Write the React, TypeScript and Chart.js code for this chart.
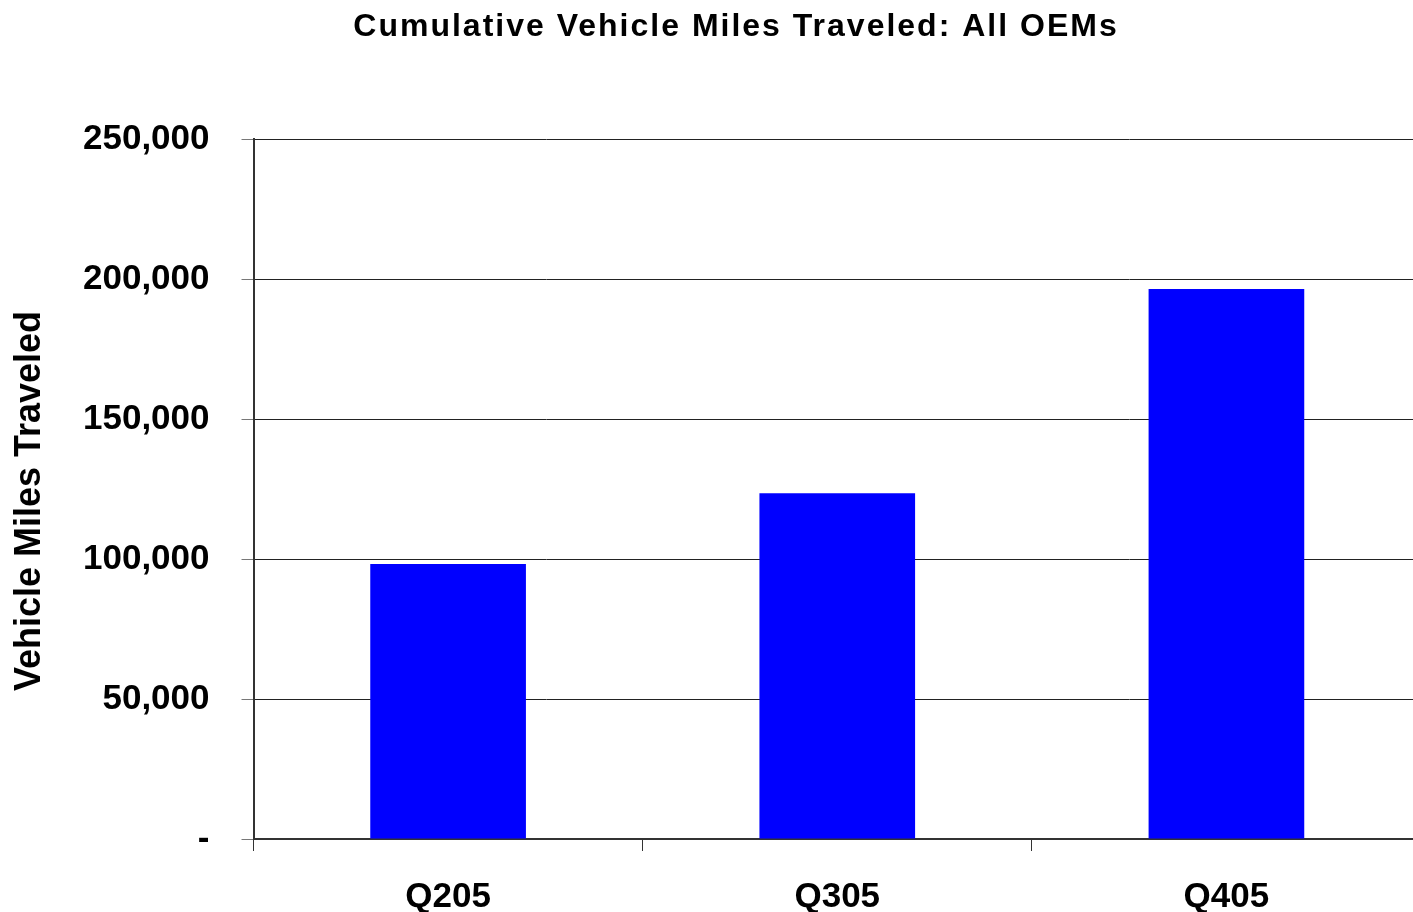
import React, { useEffect, useRef } from "react";
import { Chart, registerables } from "chart.js";

Chart.register(...registerables);

const chartTitle = "Cumulative Vehicle Miles Traveled: All OEMs";
const yAxisTitle = "Vehicle Miles Traveled";
const categories = ["Q205", "Q305", "Q405"];
const milesTraveled = [98200, 123500, 196400];
const yMin = 0;
const yMax = 250000;
const yStep = 50000;

const FONT = "'Liberation Sans', Arial, Helvetica, sans-serif";

const textPlugin = {
  id: "customTexts",
  afterDraw(chart: any) {
    const ctx = chart.ctx as CanvasRenderingContext2D;
    ctx.save();
    ctx.fillStyle = "#000";
    ctx.font = `bold 32px ${FONT}`;
    (ctx as any).letterSpacing = "2px";
    ctx.textAlign = "center";
    ctx.textBaseline = "middle";
    ctx.fillText(chartTitle, 736, 27);
    ctx.restore();

    ctx.save();
    ctx.fillStyle = "#000";
    ctx.font = `bold 36px ${FONT}`;
    ctx.textAlign = "center";
    ctx.textBaseline = "middle";
    ctx.translate(30, 501);
    ctx.rotate(-Math.PI / 2);
    ctx.fillText(yAxisTitle, 0, 0);
    ctx.restore();
  },
};

export default function App() {
  const canvasRef = useRef<HTMLCanvasElement | null>(null);

  useEffect(() => {
    if (!canvasRef.current) return;
    const chart = new Chart(canvasRef.current, {
      type: "bar",
      data: {
        labels: categories,
        datasets: [
          {
            data: milesTraveled,
            backgroundColor: "#0000FF",
            borderWidth: 0,
            barPercentage: 0.4,
            categoryPercentage: 1,
          },
        ],
      },
      options: {
        responsive: false,
        animation: false,
        devicePixelRatio: 1,
        layout: { padding: { top: 139, left: 51, right: 0, bottom: 0 } },
        plugins: {
          legend: { display: false },
          tooltip: { enabled: false },
          title: { display: false },
        },
        scales: {
          x: {
            offset: true,
            grid: {
              display: true,
              drawOnChartArea: false,
              drawTicks: true,
              tickLength: 12,
              color: "#333",
              lineWidth: 1,
              offset: true,
            },
            border: { display: true, color: "#333", width: 2 },
            ticks: {
              color: "#000",
              padding: 25,
              font: { family: FONT, size: 35, weight: "bold" },
            },
          },
          y: {
            min: yMin,
            max: yMax,
            grid: {
              color: "#222",
              lineWidth: 1,
              drawTicks: true,
              tickLength: 12,
              tickColor: "#777",
            },
            border: { display: true, color: "#333", width: 2 },
            ticks: {
              stepSize: yStep,
              color: "#000",
              padding: 32,
              font: { family: FONT, size: 35, weight: "bold" },
              callback: (v: any) =>
                Number(v) === 0 ? "-" : Number(v).toLocaleString("en-US"),
            },
          },
        },
      },
      plugins: [textPlugin],
    });
    return () => chart.destroy();
  }, []);

  return (
    <div style={{ position: "fixed", left: 0, top: 0, width: 1421, height: 943, background: "#fff" }}>
      <canvas ref={canvasRef} width={1421} height={943} style={{ display: "block" }} />
    </div>
  );
}
